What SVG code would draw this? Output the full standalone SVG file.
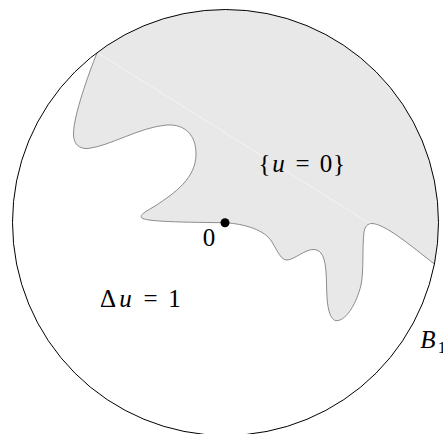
<svg xmlns="http://www.w3.org/2000/svg" width="443" height="434" viewBox="0 0 443 434">
<style>
.m{font-family:"Liberation Serif","Times New Roman",serif;font-size:25px;fill:#000;text-anchor:middle}
.i{font-style:italic}
</style>
<rect width="443" height="434" fill="#fff"/>
<g id="region">
<path fill="#e8e8e8" stroke="none" d="M97.2,52.5 C88,75 74,115 73.5,133 C73,145 80,149 88,148.5 C110,146 140,127 167,125 C185,124 196,135 196,154 C196,178 175,193 155,206 C145,212 139,215 142,218 C146,221 170,222.3 225,222.7 C245,224 265,230 272,242 C278,252 281,260 287,260 C294,260 305,249 314,249.5 C322,250 325,258 326,272 C327,285 326,300 329,311 C331,318 334,321 337,320.7 C347,320 357,302 361,285 C364,270 362,250 364,232 C365,226 368,223.5 372,223.5 C385,224 410,245 434.3,264 A213,213 0 0 0 97.2,52.5 Z"/>
<line x1="97.2" y1="52.5" x2="434.3" y2="264" stroke="#fff" stroke-width="0.6" opacity="0.9"/>
</g>
<g id="boundary">
<path fill="none" stroke="#808080" stroke-width="0.9" d="M97.2,52.5 C88,75 74,115 73.5,133 C73,145 80,149 88,148.5 C110,146 140,127 167,125 C185,124 196,135 196,154 C196,178 175,193 155,206 C145,212 139,215 142,218 C146,221 170,222.3 225,222.7 C245,224 265,230 272,242 C278,252 281,260 287,260 C294,260 305,249 314,249.5 C322,250 325,258 326,272 C327,285 326,300 329,311 C331,318 334,321 337,320.7 C347,320 357,302 361,285 C364,270 362,250 364,232 C365,226 368,223.5 372,223.5 C385,224 410,245 434.3,264"/>
</g>
<g id="disk">
<circle cx="225.5" cy="222.5" r="213" fill="none" stroke="#000" stroke-width="1"/>
</g>
<g id="origin">
<circle cx="225" cy="222.7" r="4.5" fill="#000"/>
<text class="m" x="209" y="246">0</text>
</g>
<g id="labels">
<text class="m" x="264.4" y="172">{</text>
<text class="m i" x="278.5" y="172">u</text>
<text class="m" x="302.5" y="172">=</text>
<text class="m" x="326" y="172">0</text>
<text class="m" x="339" y="172">}</text>
<text class="m" x="108" y="307">Δ</text>
<text class="m i" x="125.5" y="307">u</text>
<text class="m" x="150.5" y="307">=</text>
<text class="m" x="174.5" y="307">1</text>
<text class="m i" x="428" y="348">B</text>
<text class="m" x="442" y="353" style="font-size:17px">1</text>
</g>
</svg>
